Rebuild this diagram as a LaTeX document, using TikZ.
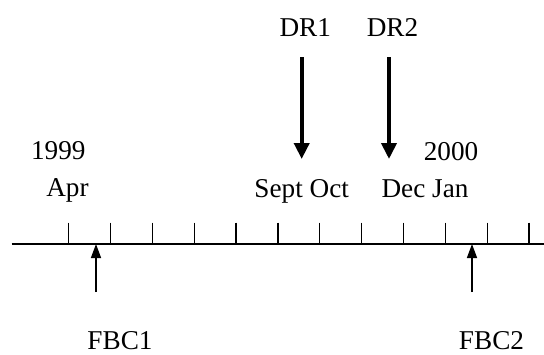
\documentclass[tikz,border=0pt]{standalone}
\usepackage{fontspec}
\setmainfont{Liberation Serif}
\usetikzlibrary{arrows.meta}
\begin{document}
\begin{tikzpicture}[x=1pt,y=-1pt,
  lbl/.style={inner sep=0pt,anchor=base,font=\fontsize{27.2}{30}\selectfont},
  axis/.style={line width=1.5pt},
  tick/.style={line width=1.3pt},
  bigarrow/.style={line width=3.8pt,-{Triangle[length=16pt,width=15pt]}},
  smallarrow/.style={line width=1.4pt,-{Triangle[length=14pt,width=10pt]}}]
\useasboundingbox (0,0) rectangle (544,354);
% labels
\node[lbl] (y1999) at (58.3,159.5) {1999};
\node[lbl] (apr) at (67.5,196) {Apr};
\node[lbl] (septoct) at (301.7,197.3) {Sept Oct};
\node[lbl] (decjan) at (425,197.3) {Dec Jan};
\node[lbl] (y2000) at (451,160) {2000};
\node[lbl] (dr1) at (305.3,36) {DR1};
\node[lbl] (dr2) at (392.5,36) {DR2};
\node[lbl] (fbc1) at (120,349.5) {FBC1};
\node[lbl] (fbc2) at (491.5,349.5) {FBC2};
% axis
\coordinate (axL) at (11.5,244);
\coordinate (axR) at (544,244);
\draw[axis] (axL) -- (axR);
\foreach \i in {0,...,11}{
  \draw[tick] ({68.7+41.85*\i},222.5) -- ({68.7+41.85*\i},244);
}
% DR arrows
\coordinate (d1s) at (301.7,57);
\coordinate (d1e) at (301.7,159);
\coordinate (d2s) at (389,57);
\coordinate (d2e) at (389,159);
\draw[bigarrow] (d1s) -- (d1e);
\draw[bigarrow] (d2s) -- (d2e);
% FBC arrows
\coordinate (f1s) at (96,292);
\coordinate (f1e) at (96,244);
\coordinate (f2s) at (472,292);
\coordinate (f2e) at (472,244);
\draw[smallarrow] (f1s) -- (f1e);
\draw[smallarrow] (f2s) -- (f2e);
\end{tikzpicture}
\end{document}
